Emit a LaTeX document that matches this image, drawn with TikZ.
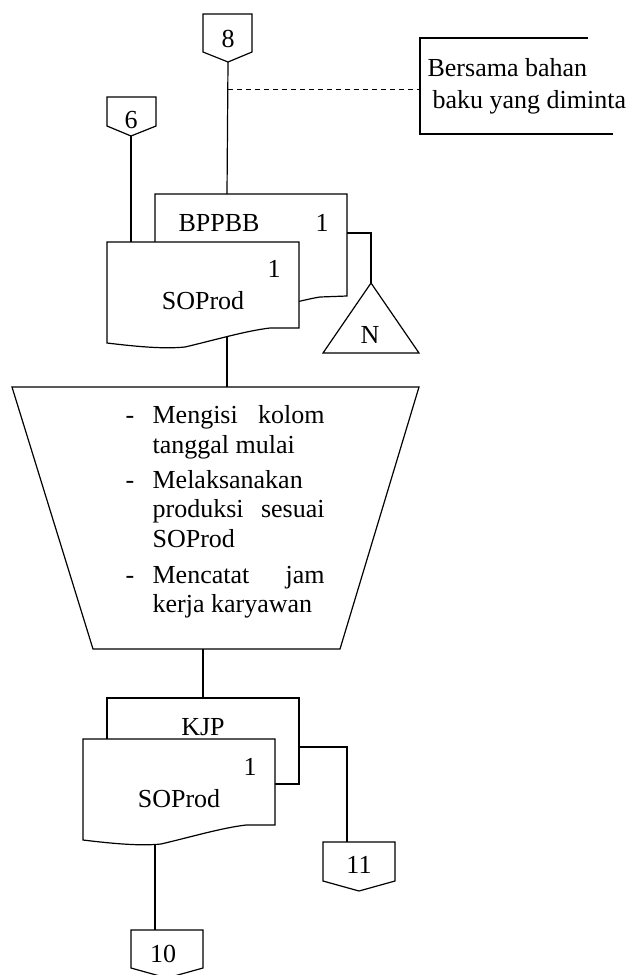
\documentclass[tikz,border=0pt]{standalone}
\usepackage{fontspec}
\setmainfont{Liberation Serif}
\begin{document}
\begin{tikzpicture}[x=1pt,y=-1pt,
  line width=1.2pt, line join=miter,
  outl/.style={draw=black, fill=white},
  lbl/.style={inner sep=0pt, anchor=base, font=\fontsize{26}{30}\selectfont},
  lbll/.style={inner sep=0pt, anchor=base west, font=\fontsize{26}{30}\selectfont},
  link/.style={draw=black}]
\useasboundingbox (0,0) rectangle (631,975);

% ---- off-page connector 8 and note ----
\draw[outl] (203,14) -- (252,14) -- (252,52) -- (228,62) -- (203,52) -- cycle;
\node[lbl] (c8) at (228,47) {8};
\coordinate (c8out) at (228,62);
\coordinate (c8tap) at (228,89);
\coordinate (noteL) at (420,89);
\draw (588,38) -- (420,38) -- (420,134) -- (613,134);
\node[lbll] (note1) at (427,76) {Bersama bahan};
\node[lbll] (note2) at (432,108) {baku yang diminta};
\draw[link, dashed, dash pattern=on 5pt off 4pt, line width=1pt] (c8tap) -- (noteL);

% ---- off-page connector 6 ----
\draw[outl] (107,97) -- (156,97) -- (156,126) -- (131,136) -- (107,126) -- cycle;
\node[lbl] (c6) at (131,128) {6};
\coordinate (c6out) at (131,136);

% ---- document pair: BPPBB behind SOProd ----
\draw[outl] (155,194) -- (347,194) -- (347,296) -- (320,297)
  .. controls (300,300) and (260,313) .. (230,313) -- (155,310) -- cycle;
\coordinate (bppbbTop) at (227,194);
\coordinate (bppbbR) at (347,233);
\node[lbl] (bppbb) at (219,231) {BPPBB};
\node[lbl] (bppbbN) at (322,231) {1};

\draw[outl] (107,242) -- (299,242) -- (299,328) -- (270,328)
  .. controls (245,331) and (215,340) .. (185,347)
  .. controls (165,349) and (140,347) .. (107,343) -- cycle;
\coordinate (so1Top) at (131,242);
\coordinate (so1Bot) at (227,337);
\node[lbl] (so1N) at (274,277) {1};
\node[lbl] (so1) at (203,309) {SOProd};

% ---- file N ----
\draw[outl] (371,283) -- (419,353) -- (323,353) -- cycle;
\coordinate (fileTop) at (371,283);
\node[lbl] (fileN) at (370,343) {N};

% ---- manual operation ----
\draw[outl] (12,387) -- (419,387) -- (340,649) -- (93,649) -- cycle;
\coordinate (opTop) at (227,387);
\coordinate (opBot) at (203,649);
\node[lbl] (d1) at (130,423) {-};
\node[lbll] (t1) at (152,423) {\makebox[172pt][s]{Mengisi\hfill kolom}};
\node[lbll] (t2) at (152,453) {tanggal mulai};
\node[lbl] (d2) at (130,488) {-};
\node[lbll] (t3) at (152,488) {Melaksanakan};
\node[lbll] (t4) at (152,517) {\makebox[172pt][s]{produksi\hfill sesuai}};
\node[lbll] (t5) at (152,547) {SOProd};
\node[lbl] (d3) at (130,583) {-};
\node[lbll] (t6) at (152,583) {\makebox[172pt][s]{Mencatat\hfill jam}};
\node[lbll] (t7) at (152,612) {kerja karyawan};

% ---- document pair: KJP behind SOProd ----
\draw[outl] (107,698) -- (299,698) -- (299,784) -- (270,784) -- (270,800) -- (107,800) -- cycle;
\coordinate (kjpTop) at (203,698);
\coordinate (kjpR) at (299,747);
\node[lbl] (kjp) at (203,735) {KJP};

\draw[outl] (83,739) -- (275,739) -- (275,825) -- (246,825)
  .. controls (221,828) and (191,837) .. (161,844)
  .. controls (141,846) and (116,844) .. (83,840) -- cycle;
\coordinate (so2Bot) at (155,845);
\node[lbl] (so2N) at (250,775) {1};
\node[lbl] (so2) at (179,807) {SOProd};

% ---- off-page connectors 11 and 10 ----
\draw[outl] (323,842) -- (395,842) -- (395,881) -- (359,891) -- (323,881) -- cycle;
\coordinate (c11in) at (347,842);
\node[lbl] (c11) at (359,873) {11};

\draw[outl] (131,930) -- (203,930) -- (203,968) -- (167,978) -- (131,968) -- cycle;
\coordinate (c10in) at (155,930);
\node[lbl] (c10) at (163,962) {10};

% ---- flow lines ----
\draw[link] (c8out) -- (bppbbTop);
\draw[link] (c6out) -- (so1Top);
\draw[link] (bppbbR) -| (fileTop);
\draw[link] (so1Bot) -- (opTop);
\draw[link] (opBot) -- (kjpTop);
\draw[link] (kjpR) -| (c11in);
\draw[link] (so2Bot) -- (c10in);
\end{tikzpicture}
\end{document}
